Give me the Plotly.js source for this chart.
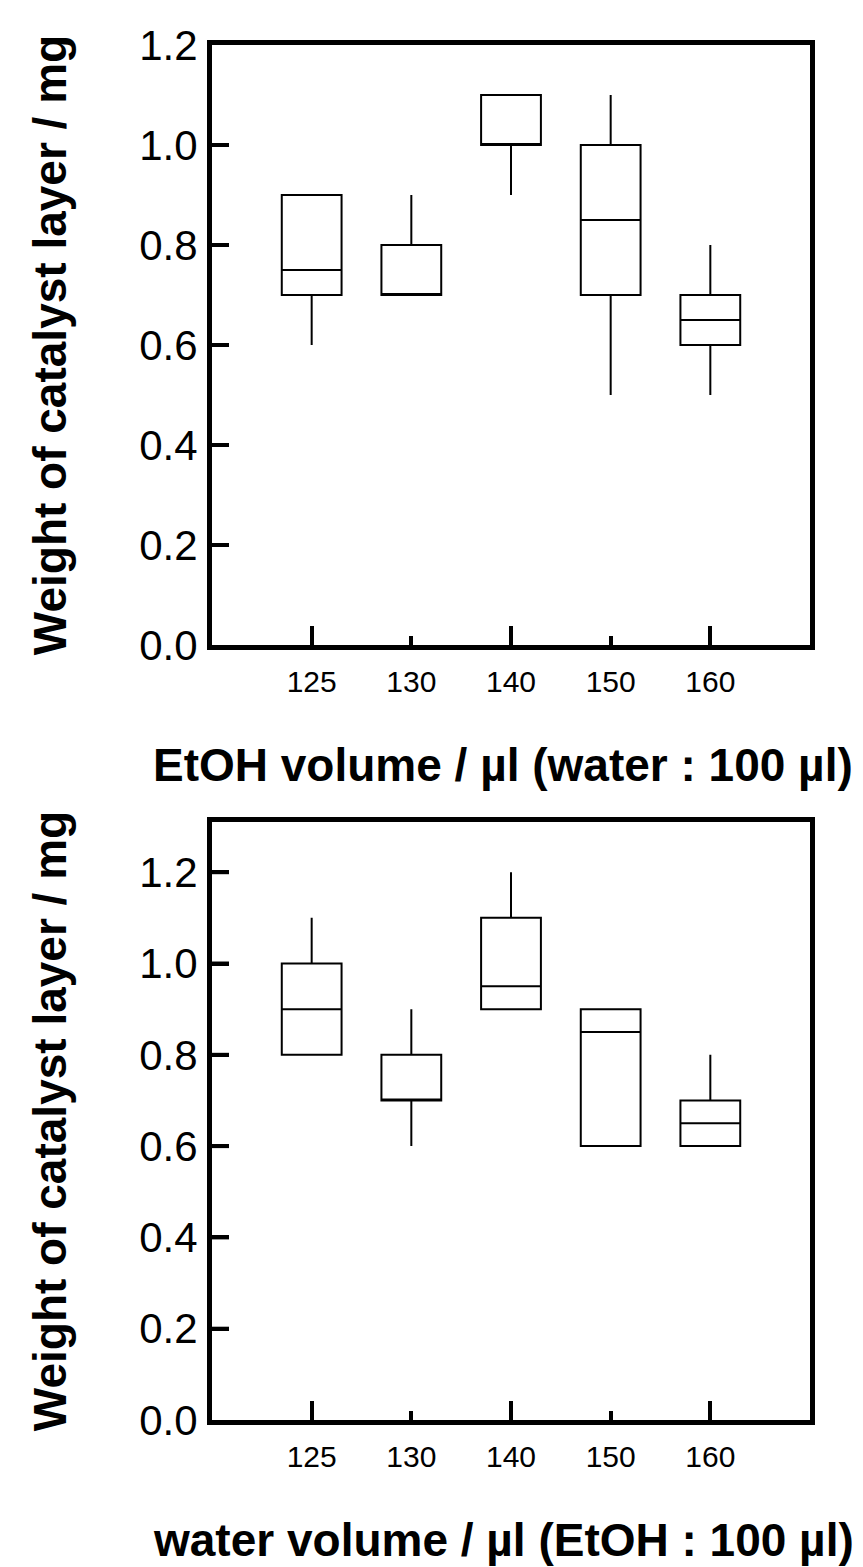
<!DOCTYPE html>
<html>
<head>
<meta charset="utf-8">
<script src="https://cdn.plot.ly/plotly-3.0.1.min.js"></script>
<style>
  html, body { margin: 0; padding: 0; background: #fff; }
  #chart { width: 863px; height: 1567px; }
</style>
</head>
<body>
<div id="chart"></div>
<script>
// Volume categories (µl), shared by both panels
const volumes = ['125', '130', '140', '150', '160'];

// Panel A: EtOH volume varied, water fixed at 100 µl (weight, mg)
const etohLow    = [0.60, 0.70, 0.90, 0.50, 0.50];
const etohQ1     = [0.70, 0.70, 1.00, 0.70, 0.60];
const etohMedian = [0.75, 0.70, 1.00, 0.85, 0.65];
const etohQ3     = [0.90, 0.80, 1.10, 1.00, 0.70];
const etohHigh   = [0.90, 0.90, 1.10, 1.10, 0.80];

// Panel B: water volume varied, EtOH fixed at 100 µl (weight, mg)
const waterLow    = [0.80, 0.60, 0.90, 0.60, 0.60];
const waterQ1     = [0.80, 0.70, 0.90, 0.60, 0.60];
const waterMedian = [0.90, 0.70, 0.95, 0.85, 0.65];
const waterQ3     = [1.00, 0.80, 1.10, 0.90, 0.70];
const waterHigh   = [1.10, 0.90, 1.20, 0.90, 0.80];

// Long ticks fall on every other category
const longTickIdx = [0, 2, 4];
// Weight ticks (mg)
const weightTicks = [0, 0.2, 0.4, 0.6, 0.8, 1.0, 1.2];

const yTitle = 'Weight of catalyst layer / mg';
const xTitleA = 'EtOH volume / µl (water : 100 µl)';
const xTitleB = 'water volume / µl (EtOH : 100 µl)';

const H = 1567, W = 863;
const xDom = [212 / W, 810 / W];
const yDomA = [1 - 645 / H, 1 - 45 / H];
const yDomB = [1 - 1420 / H, 1 - 822 / H];
const topA = 1.2, topB = 1.31;

function boxTrace(q1, med, q3, lo, hi, xa, ya) {
  return {
    type: 'box',
    x: volumes,
    q1: q1, median: med, q3: q3,
    lowerfence: lo, upperfence: hi,
    xaxis: xa, yaxis: ya,
    width: 0.6,
    whiskerwidth: 0,
    boxpoints: false,
    fillcolor: 'rgba(0,0,0,0)',
    line: { color: '#000', width: 2 },
    hoverinfo: 'skip',
    showlegend: false
  };
}

// empty carrier so the long-tick overlay axis gets drawn
function tickCarrier(xa, ya) {
  return { type: 'scatter', mode: 'markers', x: [], y: [], xaxis: xa, yaxis: ya, hoverinfo: 'skip', showlegend: false };
}

const data = [
  boxTrace(etohQ1, etohMedian, etohQ3, etohLow, etohHigh, 'x', 'y'),
  boxTrace(waterQ1, waterMedian, waterQ3, waterLow, waterHigh, 'x2', 'y2'),
  tickCarrier('x3', 'y'),
  tickCarrier('x4', 'y2')
];

const tickFontY = { family: 'Liberation Sans, Arial, sans-serif', size: 42, color: '#000' };
const tickFontX = { family: 'Liberation Sans, Arial, sans-serif', size: 30, color: '#000' };
const titleFont = { family: 'Liberation Sans, Arial, sans-serif', size: 46, color: '#000' };

function catAxis(anchor) {
  return {
    type: 'category',
    domain: xDom,
    anchor: anchor,
    range: [-1, 5],
    showline: true, mirror: true, linecolor: '#000', linewidth: 5,
    ticks: 'inside', ticklen: 9, tickwidth: 4, tickcolor: '#000',
    tickfont: tickFontX,
    ticklabelstandoff: 6,
    showgrid: false, zeroline: false, fixedrange: true
  };
}

function longTickAxis(over, anchor) {
  return {
    type: 'linear',
    overlaying: over,
    anchor: anchor,
    domain: xDom,
    range: [-1, 5],
    tickmode: 'array',
    tickvals: longTickIdx,
    showticklabels: false,
    ticks: 'inside', ticklen: 19, tickwidth: 4, tickcolor: '#000',
    showline: false, showgrid: false, zeroline: false, fixedrange: true
  };
}

function valAxis(anchor, dom, top) {
  return {
    domain: dom,
    anchor: anchor,
    range: [0, top],
    tickmode: 'array', tickvals: weightTicks,
    tickformat: '.1f',
    showline: true, mirror: true, linecolor: '#000', linewidth: 5,
    ticks: 'inside', ticklen: 17, tickwidth: 4, tickcolor: '#000',
    tickfont: tickFontY,
    ticklabelstandoff: 1,
    title: { text: '<b>' + yTitle + '</b>', font: titleFont, standoff: 60 },
    automargin: false,
    showgrid: false, zeroline: false, fixedrange: true
  };
}

// inner tick marks on the weight axis, placed through each panel's own y scale
function weightTickShapes(yref, top) {
  return weightTicks.filter(function (v) { return v > 0 && v < top; }).map(function (v) {
    return {
      type: 'line', layer: 'above',
      xref: 'paper', yref: yref,
      x0: xDom[0], x1: xDom[0] + 17 / W, y0: v, y1: v,
      line: { color: '#000', width: 4 }
    };
  });
}

const xMid = 503 / W;

const layout = {
  width: W, height: H,
  margin: { l: 0, r: 0, t: 0, b: 0 },
  paper_bgcolor: '#fff', plot_bgcolor: 'rgba(0,0,0,0)',
  showlegend: false,
  xaxis: catAxis('y'),
  yaxis: valAxis('x', yDomA, topA),
  xaxis2: catAxis('y2'),
  yaxis2: valAxis('x2', yDomB, topB),
  xaxis3: longTickAxis('x', 'y'),
  xaxis4: longTickAxis('x2', 'y2'),
  shapes: weightTickShapes('y', topA).concat(weightTickShapes('y2', topB)),
  annotations: [
    { text: '<b>' + xTitleA + '</b>', xref: 'paper', yref: 'paper', x: xMid, y: 1 - 765 / H,
      showarrow: false, font: titleFont, xanchor: 'center', yanchor: 'middle' },
    { text: '<b>' + xTitleB + '</b>', xref: 'paper', yref: 'paper', x: xMid, y: 1 - 1540 / H,
      showarrow: false, font: titleFont, xanchor: 'center', yanchor: 'middle' }
  ]
};

Plotly.newPlot('chart', data, layout, { staticPlot: true, displayModeBar: false });
</script>
</body>
</html>
